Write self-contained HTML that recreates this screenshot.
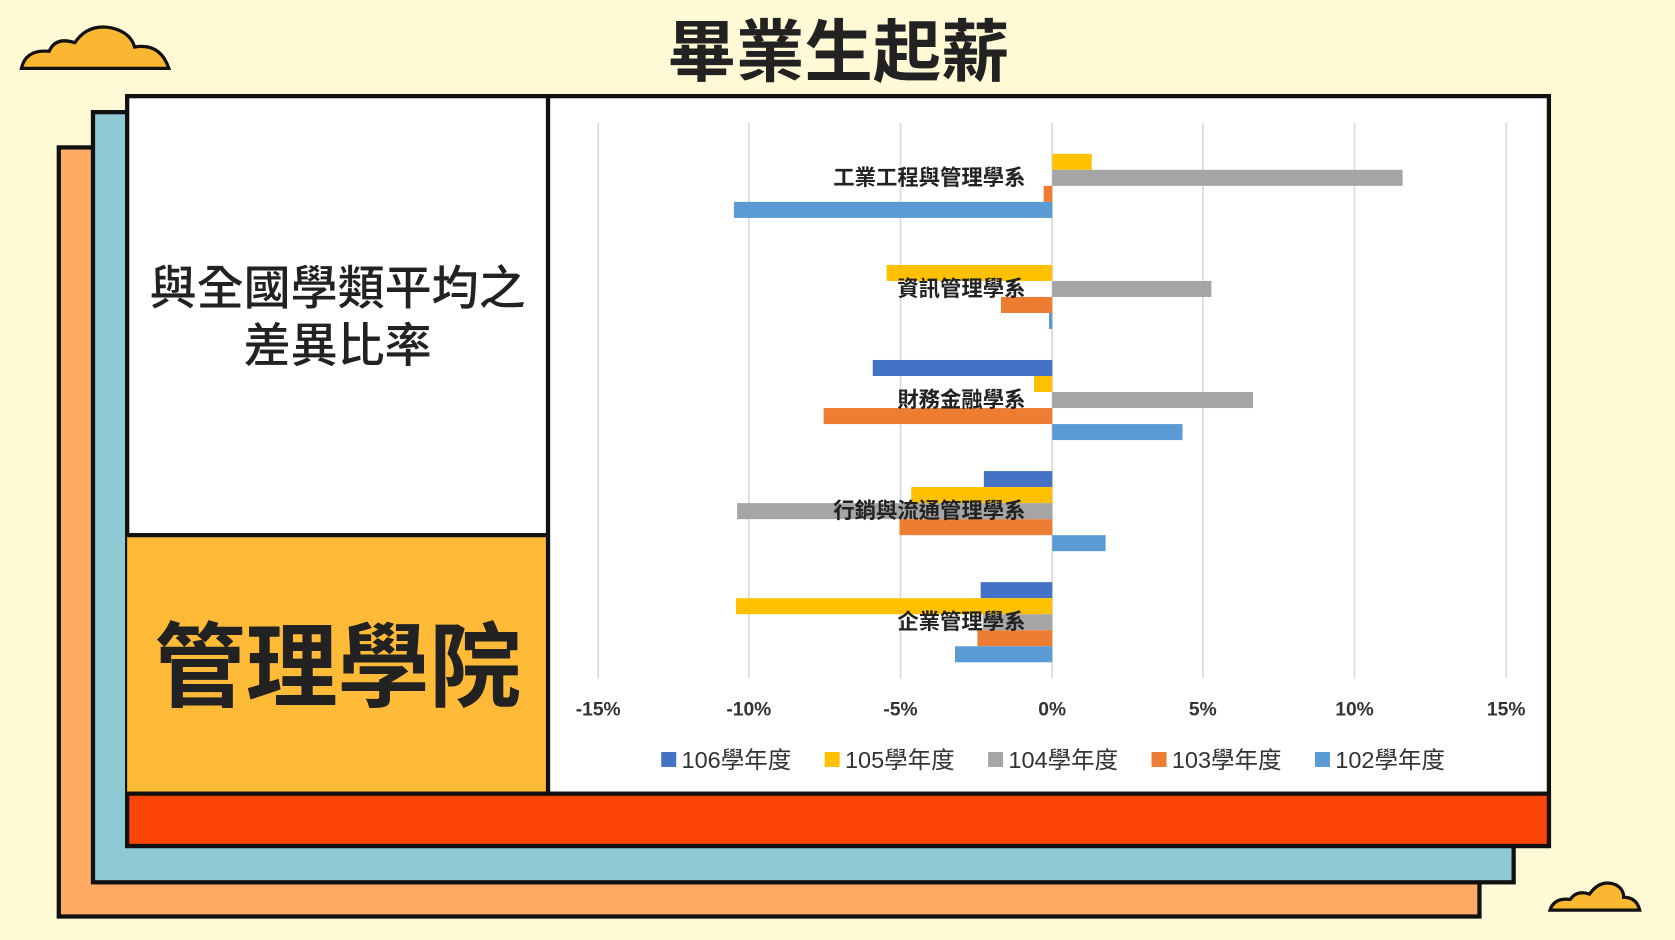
<!DOCTYPE html>
<html><head><meta charset="utf-8"><style>
html,body{margin:0;padding:0;background:#FFF9D6;}
svg{display:block;}
text{font-family:"Liberation Sans","Noto Sans CJK TC",sans-serif;}
</style></head><body>
<svg width="1675" height="940" viewBox="0 0 1568 880" xmlns="http://www.w3.org/2000/svg">
<rect width="1568" height="880" fill="#FFF9D6"/>
<path d="M20 64 Q24 46 46 48 Q52 34 70 40 Q82 22 104 26 Q122 30 126 44 Q150 40 158 64 Z" fill="#FBB731" stroke="#111" stroke-width="3"/>
<path d="M1451 852 Q1455 840 1470 842 Q1476 833 1488 837 Q1498 823 1512 828 Q1520 832 1520 840 Q1532 840 1535 852 Z" fill="#FBB731" stroke="#111" stroke-width="3"/>
<text x="785" y="71" font-size="64" font-weight="bold" text-anchor="middle" fill="#222">畢業生起薪</text>
<rect x="55" y="138" width="1330" height="720" fill="#FFAB66" stroke="#111" stroke-width="4"/>
<rect x="87" y="105" width="1330" height="721" fill="#8FCAD4" stroke="#111" stroke-width="4"/>
<rect x="119" y="90" width="1331" height="702" fill="#fff" stroke="#111" stroke-width="4"/>
<rect x="119" y="501" width="394" height="242" fill="#FFBB38"/>
<rect x="119" y="743" width="1331" height="49" fill="#FC4506" stroke="#111" stroke-width="4"/>
<line x1="513" y1="90" x2="513" y2="743" stroke="#111" stroke-width="4"/>
<line x1="119" y1="501" x2="513" y2="501" stroke="#111" stroke-width="4"/>
<text x="316" y="285" font-size="44" font-weight="500" text-anchor="middle" fill="#222">與全國學類平均之</text>
<text x="316" y="339" font-size="44" font-weight="500" text-anchor="middle" fill="#222">差異比率</text>
<text x="316" y="655" font-size="86" font-weight="bold" text-anchor="middle" fill="#222">管理學院</text>
<g stroke="#D9D9D9" stroke-width="1.5">
<line x1="560" y1="115" x2="560" y2="635"/><line x1="701" y1="115" x2="701" y2="635"/><line x1="843" y1="115" x2="843" y2="635"/><line x1="985" y1="115" x2="985" y2="635"/><line x1="1126" y1="115" x2="1126" y2="635"/><line x1="1268" y1="115" x2="1268" y2="635"/><line x1="1410" y1="115" x2="1410" y2="635"/>
</g>
<g font-size="18" font-weight="bold" fill="#333" text-anchor="middle">
<text x="560" y="670">-15%</text><text x="701" y="670">-10%</text><text x="843" y="670">-5%</text><text x="985" y="670">0%</text><text x="1126" y="670">5%</text><text x="1268" y="670">10%</text><text x="1410" y="670">15%</text>
</g>
<g>
<rect x="985" y="144" width="37" height="15" fill="#FFC000"/>
<rect x="985" y="159" width="328" height="15" fill="#A5A5A5"/>
<rect x="977" y="174" width="8" height="15" fill="#ED7D31"/>
<rect x="687" y="189" width="298" height="15" fill="#5B9BD5"/>
<rect x="830" y="248" width="155" height="15" fill="#FFC000"/>
<rect x="985" y="263" width="149" height="15" fill="#A5A5A5"/>
<rect x="937" y="278" width="48" height="15" fill="#ED7D31"/>
<rect x="982" y="293" width="3" height="15" fill="#5B9BD5"/>
<rect x="817" y="337" width="168" height="15" fill="#4472C4"/>
<rect x="968" y="352" width="17" height="15" fill="#FFC000"/>
<rect x="985" y="367" width="188" height="15" fill="#A5A5A5"/>
<rect x="771" y="382" width="214" height="15" fill="#ED7D31"/>
<rect x="985" y="397" width="122" height="15" fill="#5B9BD5"/>
<rect x="921" y="441" width="64" height="15" fill="#4472C4"/>
<rect x="853" y="456" width="132" height="15" fill="#FFC000"/>
<rect x="690" y="471" width="295" height="15" fill="#A5A5A5"/>
<rect x="842" y="486" width="143" height="15" fill="#ED7D31"/>
<rect x="985" y="501" width="50" height="15" fill="#5B9BD5"/>
<rect x="918" y="545" width="67" height="15" fill="#4472C4"/>
<rect x="689" y="560" width="296" height="15" fill="#FFC000"/>
<rect x="920" y="575" width="65" height="15" fill="#A5A5A5"/>
<rect x="915" y="590" width="70" height="15" fill="#ED7D31"/>
<rect x="894" y="605" width="91" height="15" fill="#5B9BD5"/>
</g>
<g font-size="20" font-weight="bold" fill="#222" text-anchor="end">
<text x="960" y="173">工業工程與管理學系</text>
<text x="960" y="277">資訊管理學系</text>
<text x="960" y="381">財務金融學系</text>
<text x="960" y="485">行銷與流通管理學系</text>
<text x="960" y="589">企業管理學系</text>
</g>
<g font-size="22" fill="#333">
<rect x="619" y="704" width="14" height="14" fill="#4472C4"/><text x="638" y="719">106學年度</text>
<rect x="772" y="704" width="14" height="14" fill="#FFC000"/><text x="791" y="719">105學年度</text>
<rect x="925" y="704" width="14" height="14" fill="#A5A5A5"/><text x="944" y="719">104學年度</text>
<rect x="1078" y="704" width="14" height="14" fill="#ED7D31"/><text x="1097" y="719">103學年度</text>
<rect x="1231" y="704" width="14" height="14" fill="#5B9BD5"/><text x="1250" y="719">102學年度</text>
</g>
</svg>
</body></html>
